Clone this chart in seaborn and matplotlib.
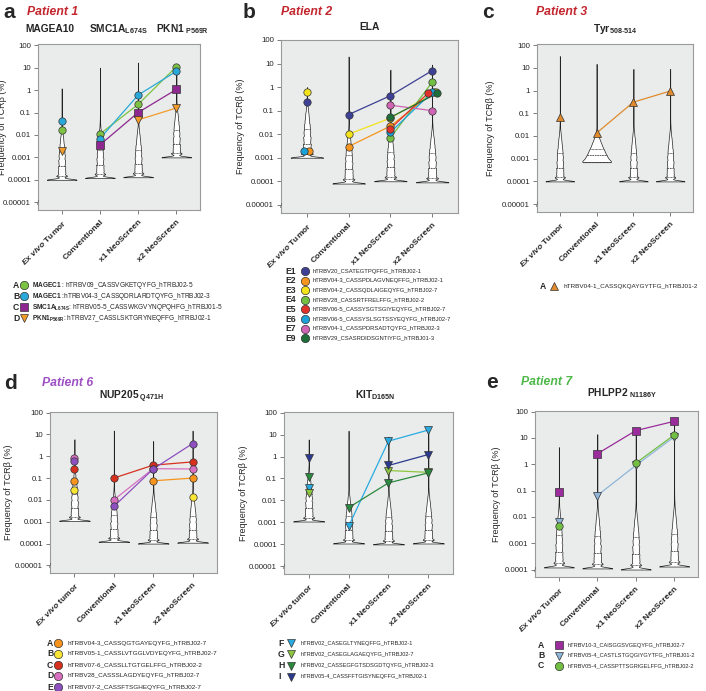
import numpy as np
import pandas as pd
import matplotlib
matplotlib.use("Agg")
import matplotlib.pyplot as plt
import seaborn as sns

sns.set_theme(style="white")
plt.rcParams["font.family"] = ["Liberation Sans", "DejaVu Sans"]
plt.rcParams["mathtext.fontset"] = "custom"
plt.rcParams["mathtext.rm"] = "Liberation Sans"
plt.rcParams["mathtext.bf"] = "Liberation Sans:bold"
plt.rcParams["mathtext.it"] = "Liberation Sans:italic:bold"

W, H = 706, 691
NAN = np.nan

samples = ["Ex vivo Tumor", "Conventional", "x1 NeoScreen", "x2 NeoScreen"]
xlabels_upper = [r"$\it{Ex\ vivo}$ Tumor", "Conventional", "x1 NeoScreen", "x2 NeoScreen"]
xlabels_lower = [r"$\it{Ex\ vivo}$ tumor", "Conventional", "x1 NeoScreen", "x2 NeoScreen"]
yticks = [100, 10, 1, 0.1, 0.01, 0.001, 0.0001, 0.00001]
ytick_labels = ["100", "10", "1", "0.1", "0.01", "0.001", "0.0001", "0.00001"]

# clone size profile: frequency levels as multiples of the detection floor,
# with clone counts
clone_mult = [1, 1.5, 2, 2.5, 3, 3.5, 4, 5, 6, 7, 8, 10, 12, 14, 17, 20, 24, 28,
              34, 40, 48, 57, 68, 80, 95, 115, 135, 160, 190, 230, 270, 320,
              380, 450, 540, 640, 760, 900, 1100, 1600, 2500, 4000, 6300,
              10000, 16000, 25000, 40000, 63000, 100000]
clone_count = [1000, 345, 220, 180, 140, 115, 150, 160, 130, 115, 140, 150, 125,
               125, 120, 115, 110, 100, 95, 88, 80, 72, 65, 58, 50, 42, 34, 27,
               21, 16, 12, 9, 6, 4, 3, 2, 2, 1, 1, 1, 1, 1, 1, 1, 1, 1, 1, 1, 1]
broad_count = [350, 190, 120, 85, 65, 50, 60, 58, 40, 32, 33, 32, 20, 15, 11, 7,
               4, 3, 2, 1, 1, 1, 1, 0, 0, 0, 0, 0, 0, 0, 0, 0, 0, 0, 0, 0, 0, 0,
               0, 0, 0, 0, 0, 0, 0, 0, 0, 0, 0]

# ---- panel a : Patient 1
a_floor = [1e-4, 1.2e-4, 1.3e-4, 1e-3]
a_top = [1.2, 10, 17, 15]
a_A = [0.017, 0.011, 0.23, 11]
a_B = [0.043, 0.0069, 0.6, 6.9]
a_C = [NAN, 0.0036, 0.1, 1.07]
a_D = [0.002, NAN, 0.047, 0.16]

# ---- panel b : Patient 2
b_floor = [1e-3, 8e-5, 1e-4, 9e-5]
b_top = [1.0, 20, 5.5, 9]
b_E1 = [0.24, 0.068, 0.43, 5.0]
b_E2 = [0.002, 0.003, 0.022, 0.62]
b_E3 = [0.6, 0.01, 0.048, 0.63]
b_E4 = [NAN, NAN, 0.007, 1.6]
b_E5 = [NAN, NAN, 0.017, 0.57]
b_E6 = [0.002, NAN, 0.012, 0.6]
b_E7 = [NAN, NAN, 0.17, 0.1]
b_E9 = [NAN, NAN, 0.052, 0.54]

# ---- panel c : Patient 3
c_floor = [1e-4, 7e-4, 1e-4, 1e-4]
c_top = [33, 15, 9, 9]
c_A = [0.066, 0.0135, 0.31, 0.95]

# ---- panel d : Patient 6, NUP205
d1_floor = [1.1e-3, 1.2e-4, 1e-4, 1.1e-4]
d1_top = [6, 15, 5, 15]
d1_A = [0.075, NAN, 0.075, 0.1]
d1_B = [0.027, NAN, NAN, 0.014]
d1_C = [0.27, 0.1, 0.39, 0.55]
d1_D = [0.8, 0.01, 0.27, 0.26]
d1_E = [0.6, 0.005, 0.26, 3.8]

# ---- panel d : Patient 6, KIT
d2_floor = [1.1e-3, 1.1e-4, 1e-4, 1.1e-4]
d2_top = [6, 15, 8, 15]
d2_F = [0.036, 0.00066, 5.0, 16]
d2_G = [0.021, NAN, 0.23, 0.19]
d2_H = [0.115, 0.0047, 0.063, 0.18]
d2_I = [0.83, NAN, 0.39, 1.23]

# ---- panel e : Patient 7
e_floor = [1.2e-4, 1.1e-4, 1e-4, 1.3e-4]
e_top = [4.5, 14, 20, 40]
e_A = [0.087, 2.5, 19, 43]
e_B = [0.0065, 0.065, 0.9, 11]
e_C = [0.0046, NAN, 1.1, 13]


def violin_frame(sample, lo, hi, counts):
    rows = []
    for m, n in zip(clone_mult, counts):
        if lo * m < hi:
            rows += [(sample, lo * m)] * n
    rows.append((sample, hi))
    return pd.DataFrame(rows, columns=["sample", "freq"])


def rect(l, t, r, b):
    return [l / W, 1 - b / H, (r - l) / W, (b - t) / H]


def make_panel(box, label_px, floors, tops, clones, colors, markers, xlabels,
               ybottom=4.5e-6, ytop=110, nticks=8, profiles=None, bws=None,
               dodge=None):
    ax = fig.add_axes(rect(*box))
    profiles = profiles or [clone_count] * 4
    bws = bws or [0.37] * 4
    dodge = dodge or [[0, 0, 0, 0]] * len(clones)
    for s, lo, hi, counts, bw in zip(samples, floors, tops, profiles, bws):
        sns.violinplot(data=violin_frame(s, lo, hi, counts), x="sample", y="freq",
                       order=samples, log_scale=True, cut=0, density_norm="width",
                       width=0.78, inner="quart", color="white", saturation=1,
                       linecolor="#222222", linewidth=0.5, bw_adjust=bw,
                       gridsize=400, ax=ax)
    for vals, col, mk, dx in zip(clones, colors, markers, dodge):
        v = np.array(vals, dtype=float)
        xs = np.arange(4) + np.array(dx)
        ax.plot(xs[1:], v[1:], color=col, lw=0.9, zorder=3)
        ax.plot(xs, v, ls="none", marker=mk, ms=5.3, mfc=col,
                mec="#333333", mew=0.5, zorder=4)
    ax.set_facecolor("#e9ecea")
    ax.set_ylim(ybottom, ytop)
    ax.set_yticks(yticks[:nticks])
    ax.set_yticklabels(ytick_labels[:nticks])
    ax.yaxis.set_minor_locator(matplotlib.ticker.NullLocator())
    ax.set_xlim(-0.62, 3.62)
    ax.set_xticks(range(4))
    ax.set_xticklabels(xlabels, rotation=45, ha="right", rotation_mode="anchor",
                       fontweight="bold", fontsize=6.0)
    ax.set_xlabel("")
    ax.set_ylabel("Frequency of TCRβ (%)", fontsize=6.5)
    l, t, r, b = box
    ax.yaxis.set_label_coords((label_px - l) / (r - l), 0.5)
    for sp in ax.spines.values():
        sp.set_color("#9a9a9a")
        sp.set_linewidth(0.8)
    ax.tick_params(axis="both", length=3, width=0.6, color="#666666",
                   labelsize=5.7, pad=2, left=True, bottom=True)
    ax.tick_params(axis="x", labelsize=6.0, pad=3)
    ax.text(0, 0.04, "/", transform=ax.transAxes, ha="center", va="center",
            fontsize=5.5, color="#555555")
    return ax


fig = plt.figure(figsize=(W / 100, H / 100), dpi=100)

# panel a
make_panel((38, 44, 200, 210), 7.5, a_floor, a_top, [a_A, a_B, a_C, a_D],
           ["#7dc242", "#29a9d9", "#8e278f", "#f39c2a"], ["o", "o", "s", "v"],
           xlabels_upper, ytop=114)
# panel b
make_panel((281, 40, 458, 213), 245, b_floor, b_top,
           [b_E1, b_E2, b_E3, b_E4, b_E6, b_E7, b_E5, b_E9],
           ["#3e4095", "#f7941d", "#f4e21b", "#72bf44", "#1ba1d8", "#d163b5",
            "#e0312a", "#1e6e3a"], ["o"] * 8, xlabels_upper, ytop=100,
           dodge=[[0, 0, 0, 0], [0.06, 0, 0, 0.04], [0, 0, 0, 0.09], [0, 0, 0, 0],
                  [-0.06, 0, 0, 0], [0, 0, 0, 0], [0, 0, 0, -0.09], [0, 0, 0, 0.12]])
# panel c
make_panel((537, 44, 693, 212), 495, c_floor, c_top, [c_A], ["#e08a2c"], ["^"],
           xlabels_upper, ytop=112,
           profiles=[clone_count, broad_count, clone_count, clone_count],
           bws=[0.37, 1.1, 0.37, 0.37])
# panel d NUP205
make_panel((50, 412, 217, 573), 13, d1_floor, d1_top, [d1_A, d1_B, d1_C, d1_D, d1_E],
           ["#f7941d", "#f9e534", "#d7301f", "#d86fc0", "#8e4fc0"], ["o"] * 5,
           xlabels_lower, ytop=106)
# panel d KIT
make_panel((284, 412, 453, 574), 248, d2_floor, d2_top, [d2_F, d2_G, d2_H, d2_I],
           ["#29abe2", "#8dc63f", "#2a8a3e", "#2b3990"], ["v"] * 4, xlabels_lower,
           ytop=106)
# panel e
make_panel((535, 411, 698, 577), 501, e_floor, e_top, [e_A, e_B, e_C],
           ["#9b2c9b", "#8fb5d9", "#72bf44"], ["s", "v", "o"], xlabels_upper,
           ybottom=5.2e-5, ytop=106, nticks=7)

# overlay for titles and legends (pixel coordinates)
ov = fig.add_axes([0, 0, 1, 1])
ov.set_axis_off()
ov.set_xlim(0, W)
ov.set_ylim(H, 0)

red = "#c4262e"
for letter, lx, pname, plx, y, col in [("a", 3, "Patient 1", 27, 12, red),
                                        ("b", 243, "Patient 2", 281, 12, red),
                                        ("c", 482, "Patient 3", 536, 12, red),
                                        ("d", 4, "Patient 6", 42, 383, "#9d4fc4"),
                                        ("e", 486, "Patient 7", 521, 382, "#4db748")]:
    ov.text(lx, y, letter, fontsize=15, fontweight="bold", va="center", ha="left")
    ov.text(plx, y, pname, fontsize=8.8, fontweight="bold", fontstyle="italic",
            color=col, va="center", ha="left")

hdr = dict(fontsize=7.4, fontweight="bold", va="center", ha="center")
ov.text(50, 29, "MAGEA10", **hdr)
ov.text(118, 29, r"$\bf{SMC1A}_{\bf{L674S}}$", **hdr)
ov.text(182, 29, r"$\bf{PKN1}_{\bf{\ P569R}}$", **hdr)
ov.text(370, 27, "ELA", **hdr)
ov.text(615, 29, r"$\bf{Tyr}_{\bf{508\text{-}514}}$", **hdr)
ov.text(132, 397, r"$\bf{NUP205}_{\bf{\ Q471H}}$", **hdr)
ov.text(375, 395, r"$\bf{KIT}_{\bf{D165N}}$", **hdr)
ov.text(622, 393, r"$\bf{PHLPP2}_{\bf{\ N1186Y}}$", **hdr)


def legend(entries, lx, mx, tx, y0, step, fs, ha="left"):
    for i, (lab, mk, col, txt) in enumerate(entries):
        y = y0 + i * step
        ov.text(lx, y, lab, fontsize=6.2, fontweight="bold", va="center", ha=ha)
        ov.plot([mx], [y], marker=mk, ms=6.0, mfc=col, mec="#333333", mew=0.5, ls="none")
        ov.text(tx, y, txt, fontsize=fs, va="center", ha="left")


legend([("A", "o", "#7dc242", r"$\bf{MAGEC1}$ : hTRBV09_CASSVGKETQYFG_hTRBJ02-5"),
        ("B", "o", "#29a9d9", r"$\bf{MAGEC1}$ :hTRBV04-3_CASSQDRLARDTQYFG_hTRBJ02-3"),
        ("C", "s", "#8e278f", r"$\bf{SMC1A}_{\bf{L674S}}$: hTRBV05-5_CASSWKGVYNQPQHFG_hTRBJ01-5"),
        ("D", "v", "#f39c2a", r"$\bf{PKN1}_{\bf{P569R}}$: hTRBV27_CASSLSKTGRYNEQFFG_hTRBJ02-1")],
       13, 24, 32, 285, 11, 4.7)

legend([("E1", "o", "#3e4095", "hTRBV20_CSATEGTPQFFG_hTRBJ02-1"),
        ("E2", "o", "#f7941d", "hTRBV04-3_CASSPDLAGVNEQFFG_hTRBJ02-1"),
        ("E3", "o", "#f4e21b", "hTRBV04-2_CASSQDLAIGEQYFG_hTRBJ02-7"),
        ("E4", "o", "#72bf44", "hTRBV28_CASSRTFRELFFG_hTRBJ02-2"),
        ("E5", "o", "#e0312a", "hTRBV06-5_CASSYSGTSGIYEQYFG_hTRBJ02-7"),
        ("E6", "o", "#1ba1d8", "hTRBV06-5_CASSYSLSGTSSYEQYFG_hTRBJ02-7"),
        ("E7", "o", "#d163b5", "hTRBV04-1_CASSPDRSADTQYFG_hTRBJ02-3"),
        ("E9", "o", "#1e6e3a", "hTRBV29_CSASRDIDSGNTIYFG_hTRBJ01-3")],
       296, 305, 313, 271, 9.6, 4.2, ha="right")

legend([("A", "^", "#e08a2c", "hTRBV04-1_CASSQKQAYGYTFG_hTRBJ01-2")],
       540, 554, 563, 286, 11, 4.6)

legend([("A", "o", "#f7941d", "hTRBV04-3_CASSQGTGAYEQYFG_hTRBJ02-7"),
        ("B", "o", "#f9e534", "hTRBV05-1_CASSLVTGGLVDYEQYFG_hTRBJ02-7"),
        ("C", "o", "#d7301f", "hTRBV07-6_CASSLLTGTGELFFG_hTRBJ02-2"),
        ("D", "o", "#d86fc0", "hTRBV28_CASSSLAGDYEQYFG_hTRBJ02-7"),
        ("E", "o", "#8e4fc0", "hTRBV07-2_CASSFTSGHEQYFG_hTRBJ02-7")],
       47, 58, 67, 643, 11, 4.6)

legend([("F", "v", "#29abe2", "hTRBV02_CASEGLTYNEQFFG_hTRBJ02-1"),
        ("G", "v", "#8dc63f", "hTRBV02_CASEGLAGAEQYFG_hTRBJ02-7"),
        ("H", "v", "#2a8a3e", "hTRBV02_CASSEGFGTSDSGDTQYFG_hTRBJ02-3"),
        ("I", "v", "#2b3990", "hTRBV05-4_CASSFFTGISYNEQFFG_hTRBJ02-1")],
       278, 291, 301, 643, 11.3, 4.1)

legend([("A", "s", "#9b2c9b", "hTRBV10-3_CAISGGSVGEQYFG_hTRBJ02-7"),
        ("B", "v", "#8fb5d9", "hTRBV05-4_CASTLSTGQGIYGYTFG_hTRBJ01-2"),
        ("C", "o", "#72bf44", "hTRBV05-4_CASSPTTSGRIGELFFG_hTRBJ02-2")],
       538, 559, 568, 645, 10.5, 4.1)

fig.savefig("out.png", dpi=100)
